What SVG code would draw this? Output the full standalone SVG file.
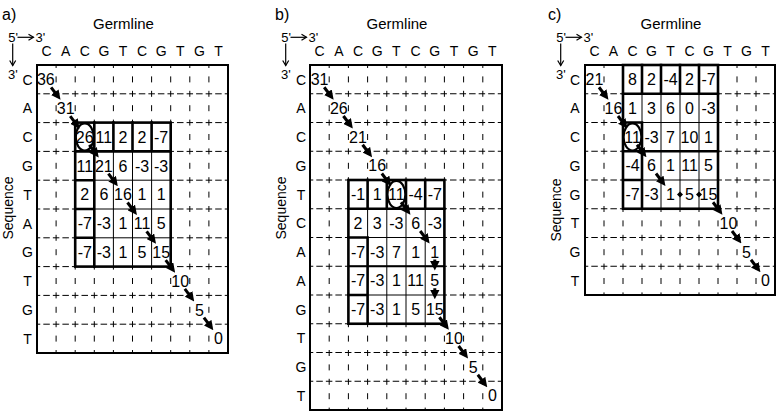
<svg xmlns="http://www.w3.org/2000/svg" width="778" height="413" viewBox="0 0 778 413">
<style>
text{font-family:"Liberation Sans",Arial,sans-serif;fill:#000}
.lbl{font-size:16px}
.ttl{font-size:15px;text-anchor:middle}
.nt{font-size:14px;text-anchor:middle}
.pr{font-size:13px}
.num{font-size:16px;text-anchor:middle}
.dv{stroke:#000;stroke-width:1;stroke-dasharray:6 8.4;stroke-dashoffset:3;fill:none}
.dh{stroke:#000;stroke-width:1;stroke-dasharray:6.5 3.05;stroke-dashoffset:3.25;fill:none}
.box{fill:#fff;stroke:none}
.thin{stroke:#000;stroke-width:1;fill:none}
.thick{stroke:#000;stroke-width:2.6;fill:none;stroke-linecap:square}
.med{stroke:#000;stroke-width:1.8;fill:none}
.frame{stroke:#000;stroke-width:2;fill:none}
.arr{stroke:#000;stroke-width:3;fill:none;marker-end:url(#ah)}
.sa{stroke:#000;stroke-width:1.2;fill:none;marker-end:url(#sh)}
.ov{fill:none;stroke:#000;stroke-width:2.2}
</style>
<defs>
<marker id="ah" markerUnits="userSpaceOnUse" viewBox="0 0 10 10" markerWidth="9.5" markerHeight="9.5" refX="4" refY="5" orient="auto"><path d="M0,0L10,5L0,10z" fill="#000"/></marker>
<marker id="sh" markerUnits="userSpaceOnUse" viewBox="-1 -1 8 8" markerWidth="8" markerHeight="8" refX="5" refY="3" orient="auto" overflow="visible"><path d="M0,0L5,3L0,6" fill="none" stroke="#000" stroke-width="1.2"/></marker>
</defs>

<!-- Panel a -->
<g id="panel-a" transform="translate(37,65)">
  <g id="a-labels">
    <text class="lbl" x="-35" y="-45">a)</text>
    <text class="ttl" x="86.5" y="-36">Germline</text>
    <text class="pr" x="-28.7" y="-23.3">5'</text>
    <path class="sa" d="M-19.5,-27.7H-3.5"/>
    <text class="pr" x="-1.5" y="-23.3">3'</text>
    <path class="sa" d="M-24.3,-21.5V0.5"/>
    <text class="pr" x="-29" y="13.5">3'</text>
    <g class="nt">
      <text x="9.55" y="-9">C</text><text x="28.65" y="-9">A</text><text x="47.75" y="-9">C</text><text x="66.85" y="-9">G</text><text x="85.95" y="-9">T</text><text x="105.05" y="-9">C</text><text x="124.15" y="-9">G</text><text x="143.25" y="-9">T</text><text x="162.35" y="-9">G</text><text x="181.45" y="-9">T</text>
      <text x="-9.5" y="19.6">C</text><text x="-9.5" y="48.4">A</text><text x="-9.5" y="77.2">C</text><text x="-9.5" y="106">G</text><text x="-9.5" y="134.8">T</text><text x="-9.5" y="163.6">A</text><text x="-9.5" y="192.4">G</text><text x="-9.5" y="221.2">T</text><text x="-9.5" y="250">G</text><text x="-9.5" y="278.8">T</text>
      <text transform="translate(-24.5,143) rotate(-90)" x="0" y="0">Sequence</text>
    </g>
  </g>
  <g id="a-grid">
    <path class="dv" d="M19.1,0V288M38.2,0V288M57.3,0V288M76.4,0V288M95.5,0V288M114.6,0V288M133.7,0V288M152.8,0V288M171.9,0V288"/>
    <path class="dh" d="M0,28.8H191M0,57.6H191M0,86.4H191M0,115.2H191M0,144H191M0,172.8H191M0,201.6H191M0,230.4H191M0,259.2H191"/>
    <rect class="box" x="38.2" y="57.6" width="95.5" height="144"/>
    <path class="thin" d="M57.3,57.6V201.6M76.4,57.6V201.6M95.5,57.6V201.6M114.6,57.6V201.6M38.2,86.4H133.7M38.2,115.2H133.7M38.2,144H133.7M38.2,172.8H133.7"/>
    <rect class="frame" x="0" y="0" width="191" height="288"/>
    <rect class="thick" x="38.2" y="57.6" width="95.5" height="144"/>
    <path class="thick" d="M38.2,86.4H133.7M57.3,57.6V201.6M76.4,57.6V86.4M95.5,57.6V86.4M114.6,57.6V86.4M38.2,115.2H57.3M38.2,144H57.3M38.2,172.8H57.3"/>
    <ellipse class="ov" cx="47.75" cy="72" rx="9" ry="13.6"/>
  </g>
  <g id="a-values" class="num">
    <text x="8.8" y="20.1">36</text>
    <text x="28.65" y="48.9">31</text>
    <text x="47.75" y="77.7">26</text><text x="66.85" y="77.7">11</text><text x="85.95" y="77.7">2</text><text x="105.05" y="77.7">2</text><text x="124.15" y="77.7">-7</text>
    <text x="47.75" y="106.5">11</text><text x="66.85" y="106.5">21</text><text x="85.95" y="106.5">6</text><text x="105.05" y="106.5">-3</text><text x="124.15" y="106.5">-3</text>
    <text x="47.75" y="135.3">2</text><text x="66.85" y="135.3">6</text><text x="85.95" y="135.3">16</text><text x="105.05" y="135.3">1</text><text x="124.15" y="135.3">1</text>
    <text x="47.75" y="164.1">-7</text><text x="66.85" y="164.1">-3</text><text x="85.95" y="164.1">1</text><text x="105.05" y="164.1">11</text><text x="124.15" y="164.1">5</text>
    <text x="47.75" y="192.9">-7</text><text x="66.85" y="192.9">-3</text><text x="85.95" y="192.9">1</text><text x="105.05" y="192.9">5</text><text x="124.15" y="192.9">15</text>
    <text x="143.25" y="221.7">10</text>
    <text x="162.35" y="250.5">5</text>
    <text x="181.45" y="279.3">0</text>
  </g>
  <g id="a-connectors">
    <path class="arr" d="M14.1,22.3L20.1,30.3"/>
    <path class="arr" d="M33.2,51.1L39.2,59.1"/>
    <path class="arr" d="M52.3,79.9L58.3,87.9"/>
    <path class="arr" d="M71.4,108.7L77.4,116.7"/>
    <path class="arr" d="M90.5,137.5L96.5,145.5"/>
    <path class="arr" d="M109.6,166.3L115.6,174.3"/>
    <path class="arr" d="M128.7,195.1L134.7,203.1"/>
    <path class="arr" d="M147.8,223.9L153.8,231.9"/>
    <path class="arr" d="M166.9,252.7L172.9,260.7"/>
  </g>
</g>

<!-- Panel b -->
<g id="panel-b" transform="translate(310,65)">
  <g id="b-labels">
    <text class="lbl" x="-35" y="-45">b)</text>
    <text class="ttl" x="87" y="-36">Germline</text>
    <text class="pr" x="-28.7" y="-23.3">5'</text>
    <path class="sa" d="M-19.5,-27.7H-3.5"/>
    <text class="pr" x="-1.5" y="-23.3">3'</text>
    <path class="sa" d="M-24.3,-21.5V0.5"/>
    <text class="pr" x="-29" y="13.5">3'</text>
    <g class="nt">
      <text x="9.6" y="-9">C</text><text x="28.8" y="-9">A</text><text x="48" y="-9">C</text><text x="67.2" y="-9">G</text><text x="86.4" y="-9">T</text><text x="105.6" y="-9">C</text><text x="124.8" y="-9">G</text><text x="144" y="-9">T</text><text x="163.2" y="-9">G</text><text x="182.4" y="-9">T</text>
      <text x="-9" y="19.6">C</text><text x="-9" y="48.35">A</text><text x="-9" y="77.1">C</text><text x="-9" y="105.85">G</text><text x="-9" y="134.6">T</text><text x="-9" y="163.35">C</text><text x="-9" y="192.1">A</text><text x="-9" y="220.85">A</text><text x="-9" y="249.6">G</text><text x="-9" y="278.35">T</text><text x="-9" y="307.1">G</text><text x="-9" y="335.85">T</text>
      <text transform="translate(-24.5,143) rotate(-90)" x="0" y="0">Sequence</text>
    </g>
  </g>
  <g id="b-grid">
    <path class="dv" d="M19.2,0V345M38.4,0V345M57.6,0V345M76.8,0V345M96,0V345M115.2,0V345M134.4,0V345M153.6,0V345M172.8,0V345"/>
    <path class="dh" d="M0,28.75H192M0,57.5H192M0,86.25H192M0,115H192M0,143.75H192M0,172.5H192M0,201.25H192M0,230H192M0,258.75H192M0,287.5H192M0,316.25H192"/>
    <rect class="box" x="38.4" y="115" width="96" height="143.75"/>
    <path class="thin" d="M57.6,115V258.75M76.8,115V258.75M96,115V258.75M115.2,115V258.75M38.4,143.75H134.4M38.4,172.5H134.4M38.4,201.25H134.4M38.4,230H134.4"/>
    <rect class="frame" x="0" y="0" width="192" height="345"/>
    <path class="med" d="M38.4,201.25H134.4"/>
    <rect class="thick" x="38.4" y="115" width="96" height="143.75"/>
    <path class="thick" d="M38.4,143.75H134.4M57.6,115V143.75M76.8,115V143.75M96,115V143.75M115.2,115V143.75M57.6,172.5V258.75M38.4,172.5H57.6M38.4,230H57.6"/>
    <ellipse class="ov" cx="86.4" cy="129.4" rx="9" ry="13.6"/>
  </g>
  <g id="b-values" class="num">
    <text x="9.6" y="20.1">31</text>
    <text x="28.8" y="48.85">26</text>
    <text x="48" y="77.6">21</text>
    <text x="67.2" y="106.35">16</text>
    <text x="48" y="135.1">-1</text><text x="67.2" y="135.1">1</text><text x="86.4" y="135.1">11</text><text x="105.6" y="135.1">-4</text><text x="124.8" y="135.1">-7</text>
    <text x="48" y="163.85">2</text><text x="67.2" y="163.85">3</text><text x="86.4" y="163.85">-3</text><text x="105.6" y="163.85">6</text><text x="124.8" y="163.85">-3</text>
    <text x="48" y="192.6">-7</text><text x="67.2" y="192.6">-3</text><text x="86.4" y="192.6">7</text><text x="105.6" y="192.6">1</text><text x="124.8" y="192.6">1</text>
    <text x="48" y="221.35">-7</text><text x="67.2" y="221.35">-3</text><text x="86.4" y="221.35">1</text><text x="105.6" y="221.35">11</text><text x="124.8" y="221.35">5</text>
    <text x="48" y="250.1">-7</text><text x="67.2" y="250.1">-3</text><text x="86.4" y="250.1">1</text><text x="105.6" y="250.1">5</text><text x="124.8" y="250.1">15</text>
    <text x="144" y="278.85">10</text>
    <text x="163.2" y="307.6">5</text>
    <text x="182.4" y="336.35">0</text>
  </g>
  <g id="b-connectors">
    <path class="arr" d="M14.2,22.25L20.2,30.25"/>
    <path class="arr" d="M33.4,51L39.4,59"/>
    <path class="arr" d="M52.6,79.75L58.6,87.75"/>
    <path class="arr" d="M71.8,108.5L77.8,116.5"/>
    <path class="arr" d="M91,137.25L97,145.25"/>
    <path class="arr" d="M110.2,166L116.2,174"/>
    <path class="arr" d="M124.8,194.5V199.8"/>
    <path class="arr" d="M124.8,223.25V228.55"/>
    <path class="arr" d="M129.4,252.25L135.4,260.25"/>
    <path class="arr" d="M148.6,281L154.6,289"/>
    <path class="arr" d="M167.8,309.75L173.8,317.75"/>
  </g>
</g>

<!-- Panel c -->
<g id="panel-c" transform="translate(585,65)">
  <g id="c-labels">
    <text class="lbl" x="-37" y="-45">c)</text>
    <text class="ttl" x="86" y="-36">Germline</text>
    <text class="pr" x="-28.7" y="-23.3">5'</text>
    <path class="sa" d="M-19.5,-27.7H-3.5"/>
    <text class="pr" x="-1.5" y="-23.3">3'</text>
    <path class="sa" d="M-24.3,-21.5V0.5"/>
    <text class="pr" x="-29" y="13.5">3'</text>
    <g class="nt">
      <text x="9.5" y="-9">C</text><text x="28.5" y="-9">A</text><text x="47.5" y="-9">C</text><text x="66.5" y="-9">G</text><text x="85.5" y="-9">T</text><text x="104.5" y="-9">C</text><text x="123.5" y="-9">G</text><text x="142.5" y="-9">T</text><text x="161.5" y="-9">G</text><text x="180.5" y="-9">T</text>
      <text x="-10" y="19.6">C</text><text x="-10" y="48.35">A</text><text x="-10" y="77.1">C</text><text x="-10" y="105.85">G</text><text x="-10" y="134.6">G</text><text x="-10" y="163.35">T</text><text x="-10" y="192.1">G</text><text x="-10" y="220.85">T</text>
      <text transform="translate(-24.5,145) rotate(-90)" x="0" y="0">Sequence</text>
    </g>
  </g>
  <g id="c-grid">
    <path class="dv" d="M19,0V230M38,0V230M57,0V230M76,0V230M95,0V230M114,0V230M133,0V230M152,0V230M171,0V230"/>
    <path class="dh" d="M0,28.75H190M0,57.5H190M0,86.25H190M0,115H190M0,143.75H190M0,172.5H190M0,201.25H190"/>
    <rect class="box" x="38" y="0" width="95" height="143.75"/>
    <path class="thin" d="M57,0V143.75M76,0V143.75M95,0V143.75M114,0V143.75M38,28.75H133M38,57.5H133M38,86.25H133M38,115H133"/>
    <rect class="frame" x="0" y="0" width="190" height="230"/>
    <rect class="thick" x="38" y="0" width="95" height="143.75"/>
    <path class="thick" d="M38,28.75H133M57,0V28.75M76,0V28.75M95,0V28.75M114,0V28.75M38,86.25H133M57,57.5V143.75M38,57.5H57M38,115H57"/>
    <ellipse class="ov" cx="47.5" cy="71.9" rx="9" ry="13.6"/>
  </g>
  <g id="c-values" class="num">
    <text x="9.5" y="20.1">21</text>
    <text x="47.5" y="20.1">8</text><text x="66.5" y="20.1">2</text><text x="85.5" y="20.1">-4</text><text x="104.5" y="20.1">2</text><text x="123.5" y="20.1">-7</text>
    <text x="28.5" y="48.85">16</text>
    <text x="47.5" y="48.85">1</text><text x="66.5" y="48.85">3</text><text x="85.5" y="48.85">6</text><text x="104.5" y="48.85">0</text><text x="123.5" y="48.85">-3</text>
    <text x="47.5" y="77.6">11</text><text x="66.5" y="77.6">-3</text><text x="85.5" y="77.6">7</text><text x="104.5" y="77.6">10</text><text x="123.5" y="77.6">1</text>
    <text x="47.5" y="106.35">-4</text><text x="66.5" y="106.35">6</text><text x="85.5" y="106.35">1</text><text x="104.5" y="106.35">11</text><text x="123.5" y="106.35">5</text>
    <text x="47.5" y="135.1">-7</text><text x="66.5" y="135.1">-3</text><text x="85.5" y="135.1">1</text><text x="104.5" y="135.1">5</text><text x="123.5" y="135.1">15</text>
    <text x="143.5" y="163.85">10</text>
    <text x="161.5" y="192.6">5</text>
    <text x="180.5" y="221.35">0</text>
  </g>
  <g id="c-connectors">
    <path class="arr" d="M14,22.25L20,30.25"/>
    <path class="arr" d="M33,51L39,59"/>
    <path class="arr" d="M52,79.75L58,87.75"/>
    <path class="arr" d="M71,108.5L77,116.5"/>
    <polygon points="92,129.4 95,126.4 98,129.4 95,132.4" fill="#000"/>
    <polygon points="111,129.4 114,126.4 117,129.4 114,132.4" fill="#000"/>
    <path class="arr" d="M128,137.25L134,145.25"/>
    <path class="arr" d="M147,166L153,174"/>
    <path class="arr" d="M166,194.75L172,202.75"/>
  </g>
</g>
</svg>
